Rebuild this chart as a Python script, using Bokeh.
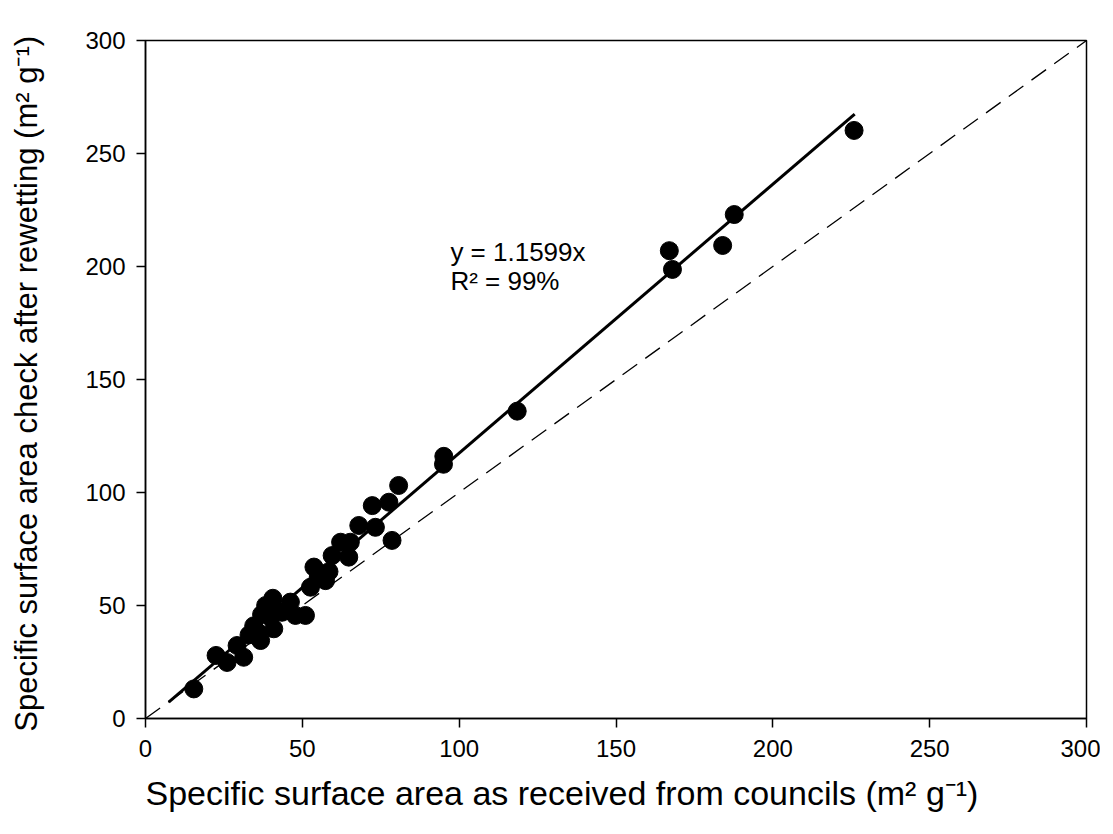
from bokeh.plotting import figure
from bokeh.models import Range1d, Label, FixedTicker, Title
from bokeh.embed import file_html
from bokeh.resources import INLINE

# Data
received = [15.4, 22.5, 26.0, 29.2, 31.3, 33.0, 34.5, 36.0, 36.7, 37.0, 38.3, 39.8,
            40.6, 40.9, 41.5, 43.5, 46.2, 47.8, 51.0, 52.6, 53.7, 55.0, 57.4, 58.5,
            59.5, 62.2, 64.8, 65.3, 68.0, 72.3, 73.3, 77.6, 78.6, 80.7, 95.0, 95.1,
            118.5, 167.0, 168.0, 184.0, 187.7, 225.9]
rewetted = [13.1, 27.9, 24.8, 32.3, 27.1, 37.0, 41.0, 38.0, 34.5, 46.0, 50.0, 44.8,
            53.2, 39.7, 48.0, 47.0, 51.5, 45.6, 45.6, 58.1, 67.0, 62.0, 61.0, 65.0,
            72.1, 78.0, 71.4, 78.0, 85.4, 94.2, 84.6, 95.7, 78.8, 103.1, 112.5, 116.0,
            136.0, 207.0, 198.7, 209.3, 223.0, 260.2]

fit_x = [7.4, 226.1]
fit_slope = 1.19
fit_intercept = -1.6
fit_y = [fit_slope * v + fit_intercept for v in fit_x]

one_to_one = [0, 300]
ticks = [0, 50, 100, 150, 200, 250, 300]

x_title = "Specific surface area as received from councils (m\u00b2 g\u207b\u00b9)"
y_title = "Specific surface area check after rewetting  (m\u00b2 g\u207b\u00b9)"

FONT = "Liberation Sans"

p = figure(width=1100, height=826, output_backend="svg", toolbar_location=None,
           x_range=Range1d(0, 300), y_range=Range1d(0, 300),
           min_border_left=145, min_border_right=14, min_border_top=40,
           min_border_bottom=108)

p.grid.visible = False
p.outline_line_color = "black"
p.outline_line_width = 1.5
p.background_fill_color = "white"
p.border_fill_color = "white"

for ax in (p.xaxis[0], p.yaxis[0]):
    ax.ticker = FixedTicker(ticks=ticks)
    ax.minor_tick_line_color = None
    ax.major_tick_out = 9
    ax.major_tick_in = 0
    ax.major_tick_line_width = 1.5
    ax.axis_line_width = 1.5
    ax.major_label_text_font = FONT
    ax.major_label_text_font_size = "24px"
    ax.major_label_text_color = "black"
    ax.axis_label_text_font = FONT
    ax.axis_label_text_font_size = "31px"
    ax.axis_label_text_font_style = "normal"
    ax.axis_label_text_color = "black"

p.yaxis.axis_label = y_title
p.xaxis.major_label_standoff = 12
p.yaxis.major_label_standoff = 11
p.yaxis.axis_label_standoff = 38

# x-axis title, left-aligned near the frame start as in the reference
p.add_layout(Title(text=x_title, align="left", offset=0, standoff=24,
                   text_font=FONT, text_font_size="34px", text_font_style="normal",
                   text_color="black"), "below")

p.line(one_to_one, one_to_one, line_color="black", line_width=1.3, line_dash="18 10")
p.line(fit_x, fit_y, line_color="black", line_width=3)
p.scatter(received, rewetted, size=18, fill_color="black", line_color="black")

p.add_layout(Label(x=97.2, y=213, text="y = 1.1599x", text_font=FONT,
                   text_font_size="26px", text_baseline="top", text_color="black"))
p.add_layout(Label(x=97.2, y=200.4, text="R\u00b2 = 99%", text_font=FONT,
                   text_font_size="26px", text_baseline="top", text_color="black"))

open("out.html", "w").write(file_html(p, INLINE))
